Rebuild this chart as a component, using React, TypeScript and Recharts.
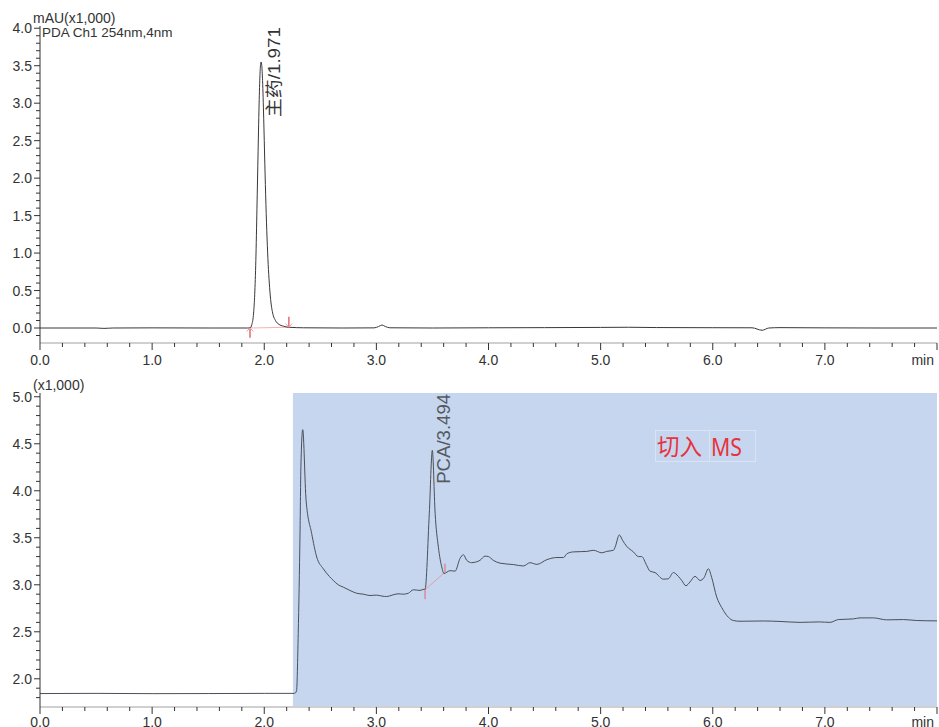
import React from 'react';
import { LineChart, Line, XAxis, YAxis, ReferenceArea, ReferenceLine, ReferenceDot } from 'recharts';

// ---------- data ----------
const topTimes = [
  0, 0.5, 0.57, 0.65, 1.0, 1.5, 1.85, 1.873, 1.89, 1.905, 1.915, 1.925, 1.935, 1.945, 1.955, 1.963,
  1.971, 1.978, 1.985, 1.995, 2.005, 2.015, 2.025, 2.035, 2.045, 2.057, 2.075, 2.1, 2.13, 2.17, 2.22,
  2.35, 2.7, 2.98, 3.02, 3.05, 3.08, 3.12, 3.5, 4.0, 4.5, 5.0, 5.25, 5.5, 6.0, 6.35, 6.44, 6.5, 6.6,
  7.0, 7.5, 8.0,
];
const topValues = [
  0.0, 0.0, -0.005, 0.0, 0.002, 0.0, 0.0, 0.0, 0.05, 0.2, 0.45, 0.9, 1.6, 2.35, 3.05, 3.42,
  3.55, 3.5, 3.3, 2.8, 2.2, 1.65, 1.2, 0.85, 0.6, 0.38, 0.2, 0.1, 0.05, 0.025, 0.01,
  0.003, 0.0, 0.002, 0.02, 0.04, 0.02, 0.003, 0.0, 0.003, 0.005, 0.008, 0.01, 0.006, 0.004, 0.003, -0.03, 0.0, 0.005,
  0.002, 0.0, 0.0,
];

const bottomTimes = [
  0.0, 0.5, 1.0, 1.5, 2.0, 2.27, 2.288, 2.303, 2.319, 2.327, 2.343, 2.373, 2.423, 2.468, 2.527, 2.58, 2.616,
  2.66, 2.705, 2.764, 2.824, 2.883, 2.943, 3.0, 3.05, 3.092, 3.14, 3.193, 3.24, 3.285, 3.33, 3.389, 3.425, 3.434, 3.472, 3.499,
  3.524, 3.553, 3.583, 3.603, 3.657, 3.702, 3.746, 3.776, 3.806, 3.85, 3.895, 3.924, 3.969, 3.999,
  4.043, 4.103, 4.222, 4.311, 4.371, 4.431, 4.52, 4.61, 4.669, 4.699, 4.758, 4.877, 4.937, 5.01,
  5.054, 5.114, 5.129, 5.167, 5.197, 5.232, 5.292, 5.337, 5.366, 5.411, 5.44, 5.485, 5.559, 5.604,
  5.648, 5.693, 5.723, 5.761, 5.797, 5.842, 5.886, 5.922, 5.961, 5.99, 6.035, 6.079, 6.139, 6.183,
  6.243, 6.45, 6.6, 6.779, 6.95, 7.046, 7.12, 7.254, 7.313, 7.432, 7.551, 7.7, 7.819, 8.0,
];
const bottomValues = [
  1.843, 1.845, 1.842, 1.843, 1.845, 1.845, 1.87, 2.48, 3.55, 4.26, 4.65, 3.9, 3.545, 3.295, 3.17, 3.09, 3.046,
  3.0, 2.975, 2.94, 2.91, 2.9, 2.886, 2.89, 2.88, 2.875, 2.89, 2.904, 2.9, 2.91, 2.947, 2.94, 2.953, 2.95, 3.76, 4.43,
  3.76, 3.4, 3.19, 3.12, 3.15, 3.145, 3.28, 3.32, 3.26, 3.235, 3.245, 3.26, 3.305, 3.3,
  3.26, 3.23, 3.215, 3.2, 3.235, 3.217, 3.267, 3.29, 3.29, 3.33, 3.35, 3.355, 3.367, 3.34,
  3.355, 3.367, 3.4, 3.53, 3.47, 3.41, 3.35, 3.3, 3.3, 3.206, 3.145, 3.13, 3.06, 3.064,
  3.13, 3.09, 3.046, 2.99, 3.03, 3.09, 3.046, 3.075, 3.17, 3.08, 2.87, 2.76, 2.655, 2.62,
  2.612, 2.615, 2.61, 2.6, 2.605, 2.6, 2.63, 2.637, 2.648, 2.648, 2.627, 2.63, 2.62, 2.616,
];

// axis ticks
const xMajorTicks = [0, 1, 2, 3, 4, 5, 6, 7, 8];
const xTickLabels = ['0.0', '1.0', '2.0', '3.0', '4.0', '5.0', '6.0', '7.0', 'min'];
const topYMajorTicks = [0, 0.5, 1.0, 1.5, 2.0, 2.5, 3.0, 3.5, 4.0];
const bottomYMajorTicks = [2.0, 2.5, 3.0, 3.5, 4.0, 4.5, 5.0];

// peak markers / labels
const topPeakLabel = { t: 1.971, v: 3.55, text: '主药/1.971' };
const bottomPeakLabel = { t: 3.499, v: 4.43, text: 'PCA/3.494' };
const topBaseline = { t1: 1.873, v1: 0.0, t2: 2.22, v2: 0.01 };
const bottomBaseline = { t1: 3.434, v1: 2.947, t2: 3.612, v2: 3.134 };
const msRegion = { start: 2.256, end: 8 };

const TOP_DOMAIN: [number, number] = [-0.2, 4.03];
const BOTTOM_DOMAIN: [number, number] = [1.7, 5.04];

const minorRange = (from: number, to: number, step: number) => {
  const out: number[] = [];
  const n = Math.round((to - from) / step);
  for (let i = 0; i <= n; i++) out.push(Math.round((from + i * step) * 1000) / 1000);
  return out;
};
const xAllTicks = minorRange(0, 8, 0.2);
const topYTicks = minorRange(-0.1, 4.0, 0.1);
const bottomYTicks = minorRange(1.8, 5.0, 0.1);

const topData = topTimes.map((t, i) => ({ t, v: topValues[i] }));
const bottomData = bottomTimes.map((t, i) => ({ t, v: bottomValues[i] }));

const FONT = '"Liberation Sans", Arial, "Noto Sans CJK SC", sans-serif';

const XTick = (props: any) => {
  const { x, y, payload, labelOffset } = props;
  const v = payload.value;
  const idx = xMajorTicks.findIndex((m) => Math.abs(m - v) < 1e-6);
  const major = idx >= 0;
  const last = idx === xMajorTicks.length - 1;
  return (
    <g>
      <line x1={x} y1={y} x2={x} y2={y + (major ? 7 : 4)} stroke="#333" strokeWidth={1} />
      {major && (
        <text
          x={last ? x - 3 : x}
          y={y + labelOffset}
          textAnchor={last ? 'end' : 'middle'}
          fontSize={14}
          fill="#333"
          fontFamily={FONT}
        >
          {xTickLabels[idx]}
        </text>
      )}
    </g>
  );
};

const YTick = (props: any) => {
  const { x, y, payload, majors } = props;
  const v = payload.value;
  const major = majors.some((m: number) => Math.abs(m - v) < 1e-6);
  return (
    <g>
      <line x1={x - (major ? 6 : 4)} y1={y} x2={x} y2={y} stroke="#333" strokeWidth={1} />
      {major && (
        <text x={x - 8} y={y} dy="0.355em" textAnchor="end" fontSize={14} fill="#333" fontFamily={FONT}>
          {v.toFixed(1)}
        </text>
      )}
    </g>
  );
};

const PeakLabel = (props: any) => {
  const { viewBox, text, dx, dy, color, len, size } = props;
  if (!viewBox) return null;
  const cx = viewBox.x + viewBox.width / 2;
  const cy = viewBox.y + viewBox.height / 2;
  return (
    <text
      transform={`translate(${cx + dx}, ${cy + dy}) rotate(-90)`}
      fontSize={size}
      fill={color}
      fontFamily={FONT}
      textLength={len}
      lengthAdjust="spacingAndGlyphs"
    >
      {text}
    </text>
  );
};

const borderStroke = '#c8c8c8';

export default function App() {
  return (
    <div style={{ position: 'absolute', left: 0, top: 0, width: 939, height: 727, background: '#fff', fontFamily: FONT, overflow: 'hidden' }}>
      <div style={{ position: 'absolute', left: 0, top: 0 }}>
        <LineChart width={939} height={372} data={topData} margin={{ top: 26, right: 2, bottom: 7, left: 0 }}>
          <XAxis
            dataKey="t"
            type="number"
            domain={[0, 8]}
            ticks={xAllTicks}
            interval={0}
            tickSize={0}
            tickMargin={0}
            tickLine={false}
            height={22}
            axisLine={{ stroke: '#d0d0d0', strokeWidth: 2 }}
            tick={<XTick labelOffset={22} />}
          />
          <XAxis xAxisId="top" orientation="top" dataKey="t" type="number" domain={[0, 8]} height={0} tick={false} tickLine={false} axisLine={{ stroke: borderStroke }} />
          <YAxis
            type="number"
            domain={TOP_DOMAIN}
            ticks={topYTicks}
            interval={0}
            width={40}
            tickSize={0}
            tickMargin={0}
            tickLine={false}
            allowDataOverflow
            axisLine={{ stroke: '#333' }}
            tick={<YTick majors={topYMajorTicks} />}
          />
          <YAxis yAxisId="right" orientation="right" type="number" domain={TOP_DOMAIN} width={0} tick={false} tickLine={false} axisLine={{ stroke: borderStroke }} />
          <ReferenceLine segment={[{ x: topBaseline.t1, y: topBaseline.v1 }, { x: topBaseline.t2, y: topBaseline.v2 }]} stroke="#f3b3b8" strokeWidth={1} />
          <Line dataKey="v" type="monotone" stroke="#383838" strokeWidth={1} dot={false} isAnimationActive={false} />
          <ReferenceLine segment={[{ x: topBaseline.t1, y: topBaseline.v1 + 0.01 }, { x: topBaseline.t1, y: topBaseline.v1 - 0.13 }]} stroke="#d3202e" strokeWidth={1} />
          <ReferenceLine segment={[{ x: topBaseline.t1 - 0.03, y: topBaseline.v1 - 0.045 }, { x: topBaseline.t1, y: topBaseline.v1 }]} stroke="#f0a0a8" strokeWidth={1} />
          <ReferenceLine segment={[{ x: topBaseline.t1 + 0.03, y: topBaseline.v1 - 0.045 }, { x: topBaseline.t1, y: topBaseline.v1 }]} stroke="#f0a0a8" strokeWidth={1} />
          <ReferenceLine segment={[{ x: topBaseline.t2, y: topBaseline.v2 }, { x: topBaseline.t2, y: topBaseline.v2 + 0.14 }]} stroke="#d3202e" strokeWidth={1} />
          <ReferenceLine segment={[{ x: topBaseline.t2 - 0.03, y: topBaseline.v2 + 0.05 }, { x: topBaseline.t2, y: topBaseline.v2 }]} stroke="#f0a0a8" strokeWidth={1} />
          <ReferenceLine segment={[{ x: topBaseline.t2 + 0.03, y: topBaseline.v2 + 0.05 }, { x: topBaseline.t2, y: topBaseline.v2 }]} stroke="#f0a0a8" strokeWidth={1} />
          <ReferenceDot
            x={topPeakLabel.t}
            y={topPeakLabel.v}
            r={0.5}
            fill="none"
            stroke="none"
            label={<PeakLabel text={topPeakLabel.text} dx={19.5} dy={55} color="#333" len={90} size={17} />}
          />
        </LineChart>
      </div>
      <div style={{ position: 'absolute', left: 0, top: 365 }}>
        <LineChart width={939} height={362} data={bottomData} margin={{ top: 28, right: 2, bottom: 0, left: 0 }}>
          <ReferenceArea
            x1={msRegion.start}
            x2={msRegion.end}
            y1={BOTTOM_DOMAIN[0]}
            y2={BOTTOM_DOMAIN[1]}
            fill="#c6d6ef"
            fillOpacity={1}
            stroke="none"
          />
          <XAxis
            dataKey="t"
            type="number"
            domain={[0, 8]}
            ticks={xAllTicks}
            interval={0}
            tickSize={0}
            tickMargin={0}
            tickLine={false}
            height={20}
            axisLine={{ stroke: '#d0d0d0', strokeWidth: 2 }}
            tick={<XTick labelOffset={20} />}
          />
          <XAxis xAxisId="top" orientation="top" dataKey="t" type="number" domain={[0, 8]} height={0} tick={false} tickLine={false} axisLine={{ stroke: borderStroke }} />
          <YAxis
            type="number"
            domain={BOTTOM_DOMAIN}
            ticks={bottomYTicks}
            interval={0}
            width={40}
            tickSize={0}
            tickMargin={0}
            tickLine={false}
            allowDataOverflow
            axisLine={{ stroke: '#333' }}
            tick={<YTick majors={bottomYMajorTicks} />}
          />
          <YAxis yAxisId="right" orientation="right" type="number" domain={BOTTOM_DOMAIN} width={0} tick={false} tickLine={false} axisLine={{ stroke: borderStroke }} />
          <ReferenceLine segment={[{ x: bottomBaseline.t1, y: bottomBaseline.v1 }, { x: bottomBaseline.t2, y: bottomBaseline.v2 }]} stroke="#e0a0a8" strokeWidth={1} />
          <Line dataKey="v" type="monotone" stroke="#4a5058" strokeWidth={1} dot={false} isAnimationActive={false} />
          <ReferenceLine segment={[{ x: bottomBaseline.t1, y: bottomBaseline.v1 + 0.02 }, { x: bottomBaseline.t1, y: bottomBaseline.v1 - 0.1 }]} stroke="#d86a78" strokeWidth={1} />
          <ReferenceLine segment={[{ x: bottomBaseline.t2, y: bottomBaseline.v2 }, { x: bottomBaseline.t2, y: bottomBaseline.v2 + 0.09 }]} stroke="#d86a78" strokeWidth={1} />
          <ReferenceDot
            x={bottomPeakLabel.t}
            y={bottomPeakLabel.v}
            r={0.5}
            fill="none"
            stroke="none"
            label={<PeakLabel text={bottomPeakLabel.text} dx={17.7} dy={33.5} color="#555a60" len={90} size={18} />}
          />
        </LineChart>
      </div>
      <svg width={939} height={727} style={{ position: 'absolute', left: 0, top: 0, pointerEvents: 'none' }}>
        <text x={33} y={23} fontSize={14} fill="#333" fontFamily={FONT}>mAU(x1,000)</text>
        <text x={42} y={37} fontSize={13.5} fill="#333" fontFamily={FONT}>PDA Ch1 254nm,4nm</text>
        <text x={33} y={390} fontSize={14} fill="#333" fontFamily={FONT}>(x1,000)</text>
        <rect x={655.5} y={430.5} width={54} height={31} fill="none" stroke="#d9e3f3" strokeWidth={1} />
        <rect x={709.5} y={430.5} width={46} height={31} fill="none" stroke="#d9e3f3" strokeWidth={1} />
        <text x={657} y={455} fontSize={23} fill="#e8323c" fontFamily='"Noto Sans CJK SC", sans-serif' textLength={45} lengthAdjust="spacingAndGlyphs">切入</text>
        <text x={711} y={456} fontSize={26} fill="#e8323c" fontFamily='"Noto Sans", sans-serif' textLength={31} lengthAdjust="spacingAndGlyphs">MS</text>
      </svg>
    </div>
  );
}
